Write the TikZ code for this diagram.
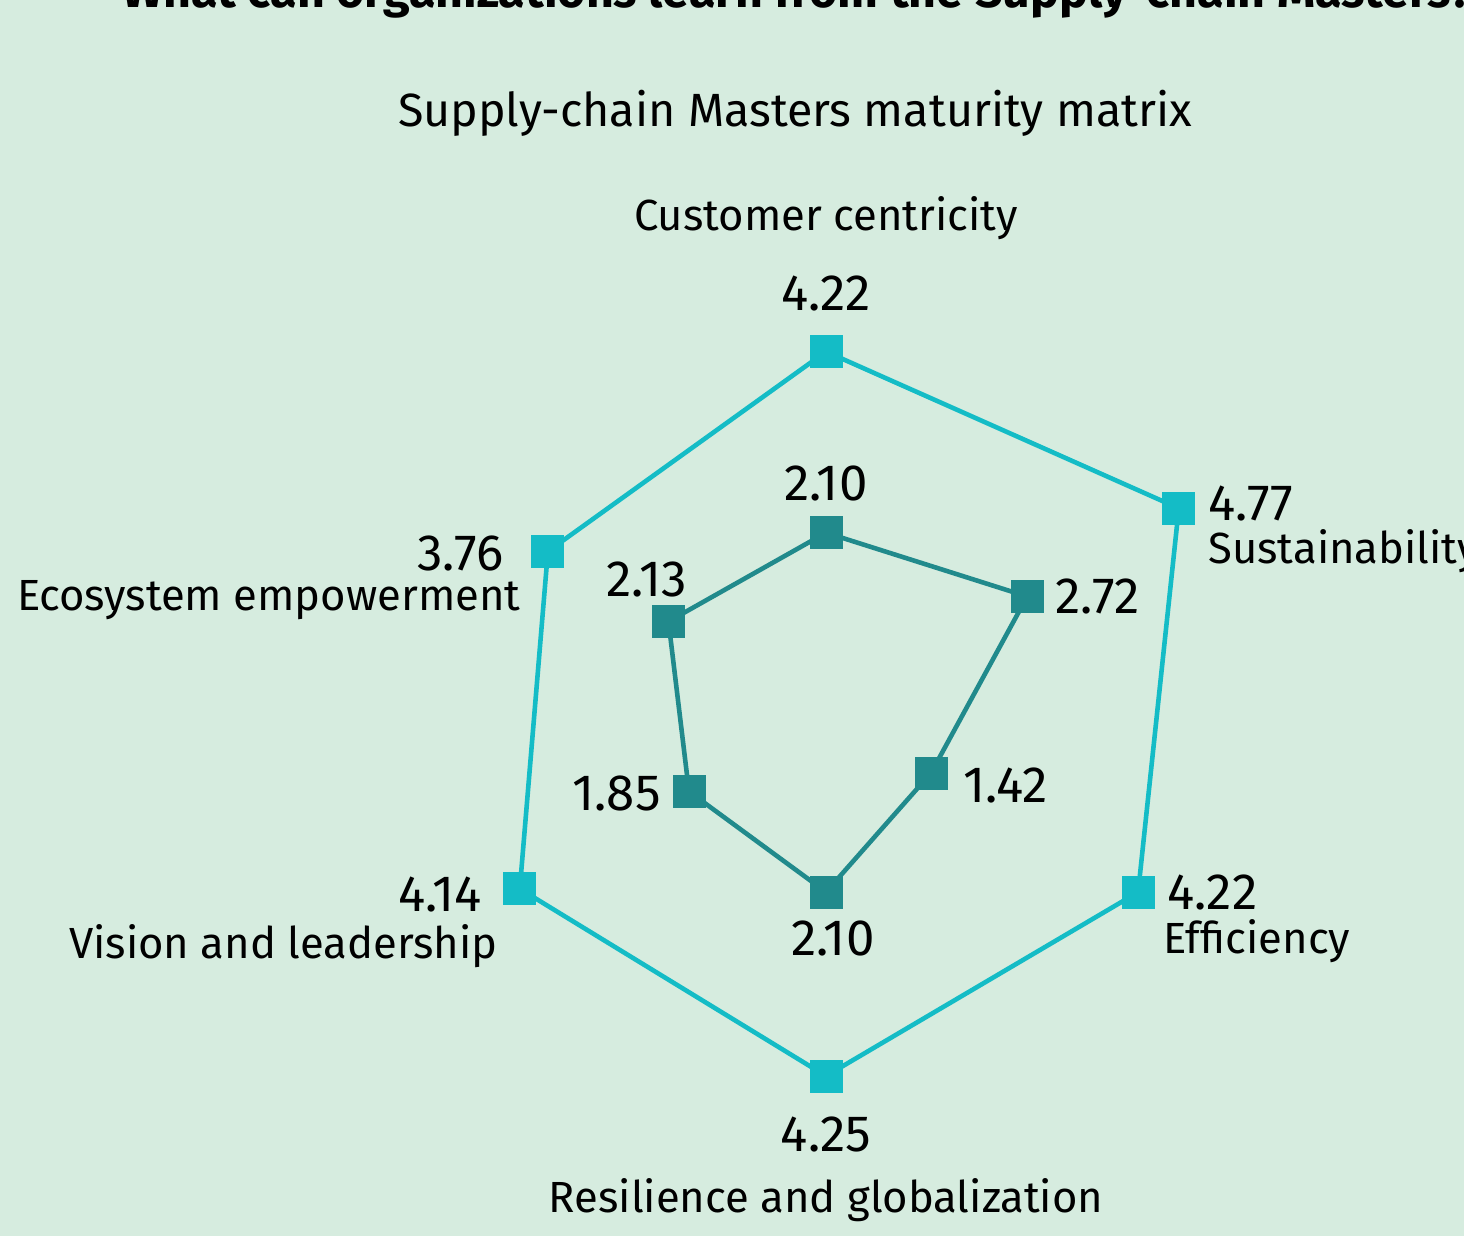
\documentclass[tikz,border=0pt]{standalone}
\usepackage{fontspec}
\setmainfont{Fira Sans}
\usetikzlibrary{positioning}

\definecolor{bgmint}{RGB}{214,236,223}
\definecolor{mastercyan}{RGB}{20,188,198}
\definecolor{avgteal}{RGB}{33,138,140}

\tikzset{
  titletext/.style={font=\bfseries\fontsize{24.2}{29}\selectfont, inner sep=0pt},
  subtitletext/.style={font=\fontsize{23.3}{28}\selectfont, inner sep=0pt},
  axislabel/.style={font=\fontsize{21.8}{26}\selectfont, inner sep=0pt},
  scorelabel/.style={font=\fontsize{25.5}{30}\selectfont, inner sep=0pt},
  masterline/.style={draw=mastercyan, line width=2.3pt, line join=round},
  avgline/.style={draw=avgteal, line width=2.3pt, line join=round},
  mastermark/.style={fill=mastercyan, minimum size=16.5pt, inner sep=0pt},
  avgmark/.style={fill=avgteal, minimum size=16.5pt, inner sep=0pt}
}

\begin{document}
\begin{tikzpicture}[x=0.5pt,y=0.5pt,yscale=-1,xscale=1]
\useasboundingbox (0,0) rectangle (1464,1236);
\fill[bgmint] (0,0) rectangle (1464,1236);

% Text Node
\draw (122,8) node [titletext, anchor=base west] (title) {What can organizations learn from the Supply-chain Masters?};
% Text Node
\draw (795,127) node [subtitletext, anchor=base] (subtitle) {Supply-chain Masters maturity matrix};

% Masters scores
\coordinate (m1) at (826,351.6);
\coordinate (m2) at (1178.8,508.3);
\coordinate (m3) at (1138.1,892.2);
\coordinate (m4) at (826,1076);
\coordinate (m5) at (519.8,888.8);
\coordinate (m6) at (547.9,551.4);

% Average scores
\coordinate (a1) at (826,532.7);
\coordinate (a2) at (1027.2,596.5);
\coordinate (a3) at (931,773);
\coordinate (a4) at (826,892);
\coordinate (a5) at (689,791.5);
\coordinate (a6) at (668.5,621.5);

%Straight Lines
\draw [masterline] (m1) -- (m2) -- (m3) -- (m4) -- (m5) -- (m6) -- cycle;
%Straight Lines
\draw [avgline] (a1) -- (a2) -- (a3) -- (a4) -- (a5) -- (a6) -- cycle;

% Markers
\node [mastermark] (mm1) at (m1) {};
\node [mastermark] (mm2) at (m2) {};
\node [mastermark] (mm3) at (m3) {};
\node [mastermark] (mm4) at (m4) {};
\node [mastermark] (mm5) at (m5) {};
\node [mastermark] (mm6) at (m6) {};
\node [avgmark] (am1) at (a1) {};
\node [avgmark] (am2) at (a2) {};
\node [avgmark] (am3) at (a3) {};
\node [avgmark] (am4) at (a4) {};
\node [avgmark] (am5) at (a5) {};
\node [avgmark] (am6) at (a6) {};

% Text Node
\draw (826,231) node [axislabel, anchor=base] (customer) {Customer centricity};
% Text Node
\draw (1208,563) node [axislabel, anchor=base west] (sustain) {Sustainability};
% Text Node
\draw (1163,953) node [axislabel, anchor=base west] (effic) {Efficiency};
% Text Node
\draw (826,1212) node [axislabel, anchor=base] (resil) {Resilience and globalization};
% Text Node
\draw (498,958) node [axislabel, anchor=base east] (vision) {Vision and leadership};
% Text Node
\draw (521,610) node [axislabel, anchor=base east] (ecosys) {Ecosystem empowerment};

% Text Node
\draw (826,311) node [scorelabel, anchor=base] (ms1) {4.22};
% Text Node
\draw (1208,520) node [scorelabel, anchor=base west] (ms2) {4.77};
% Text Node
\draw (1167,909) node [scorelabel, anchor=base west] (ms3) {4.22};
% Text Node
\draw (826,1151) node [scorelabel, anchor=base] (ms4) {4.25};
% Text Node
\draw (482,911) node [scorelabel, anchor=base east] (ms5) {4.14};
% Text Node
\draw (504,570) node [scorelabel, anchor=base east] (ms6) {3.76};

% Text Node
\draw (826,500) node [scorelabel, anchor=base] (as1) {2.10};
% Text Node
\draw (1055,613) node [scorelabel, anchor=base west] (as2) {2.72};
% Text Node
\draw (963,802) node [scorelabel, anchor=base west] (as3) {1.42};
% Text Node
\draw (833,955) node [scorelabel, anchor=base] (as4) {2.10};
% Text Node
\draw (661,810) node [scorelabel, anchor=base east] (as5) {1.85};
% Text Node
\draw (687,596) node [scorelabel, anchor=base east] (as6) {2.13};

\end{tikzpicture}
\end{document}
